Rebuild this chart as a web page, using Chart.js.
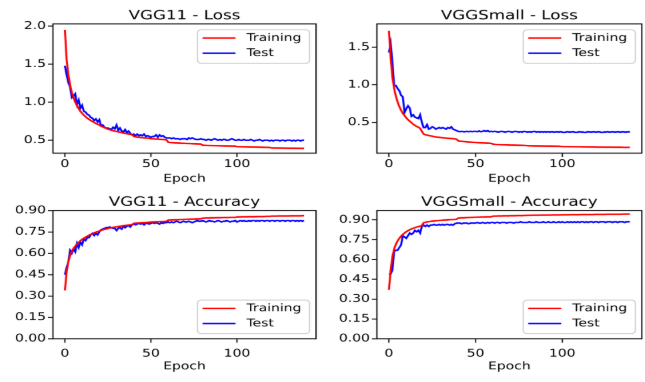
<!DOCTYPE html>
<html>
<head>
<meta charset="utf-8">
<script src="https://cdn.jsdelivr.net/npm/chart.js@4"></script>
<style>
  html, body { margin: 0; padding: 0; background: #fff; overflow: hidden; }
  #fig { position: absolute; left: 0; top: 0; }
  #work { position: absolute; left: -3000px; top: 0; }
</style>
</head>
<body>
<canvas id="fig" width="645" height="382"></canvas>
<div id="work">
  <canvas id="lossVgg11" width="322" height="245"></canvas>
  <canvas id="lossSmall" width="323" height="245"></canvas>
  <canvas id="accVgg11" width="322" height="245"></canvas>
  <canvas id="accSmall" width="323" height="245"></canvas>
</div>
<script>
const epochs = Array.from({ length: 140 }, (_, i) => i);
const xTicks = [0, 50, 100];
const lossTicks11 = [0.5, 1.0, 1.5, 2.0];
const lossTicksSmall = [0.5, 1.0, 1.5];
const accTicks = [0.0, 0.15, 0.30, 0.45, 0.60, 0.75, 0.90];

const trainLoss11 = [
  1.95, 1.56, 1.36, 1.23, 1.13, 1.06, 1.00, 0.955, 0.915, 0.88,
  0.855, 0.83, 0.81, 0.79, 0.775, 0.76, 0.745, 0.735, 0.72, 0.71,
  0.70, 0.685, 0.675, 0.665, 0.655, 0.645, 0.64, 0.63, 0.625, 0.62,
  0.615, 0.61, 0.605, 0.60, 0.595, 0.59, 0.585, 0.58, 0.578, 0.575,
  0.55, 0.545, 0.54, 0.54, 0.535, 0.535, 0.53, 0.53, 0.528, 0.525,
  0.52, 0.52, 0.518, 0.515, 0.515, 0.512, 0.51, 0.51, 0.508, 0.505,
  0.475, 0.47, 0.468, 0.467, 0.465, 0.465, 0.463, 0.462, 0.46, 0.46,
  0.458, 0.457, 0.456, 0.455, 0.454, 0.453, 0.452, 0.451, 0.45, 0.449,
  0.435, 0.433, 0.432, 0.431, 0.43, 0.43, 0.429, 0.428, 0.428, 0.427,
  0.426, 0.426, 0.425, 0.425, 0.424, 0.424, 0.423, 0.423, 0.422, 0.422,
  0.415, 0.414, 0.414, 0.413, 0.413, 0.412, 0.412, 0.411, 0.411, 0.41,
  0.41, 0.409, 0.409, 0.408, 0.408, 0.407, 0.407, 0.406, 0.406, 0.405,
  0.398, 0.398, 0.397, 0.397, 0.397, 0.396, 0.396, 0.396, 0.395, 0.395,
  0.395, 0.394, 0.394, 0.394, 0.394, 0.393, 0.393, 0.393, 0.393, 0.392
];
const testLoss11 = [
  1.48, 1.36, 1.26, 1.2, 1.06, 1.08, 1.11, 0.97, 1.03, 0.92,
  0.96, 0.88, 0.87, 0.84, 0.83, 0.8, 0.79, 0.76, 0.78, 0.74,
  0.77, 0.69, 0.7, 0.67, 0.66, 0.66, 0.65, 0.64, 0.67, 0.65,
  0.70, 0.63, 0.66, 0.62, 0.61, 0.64, 0.6, 0.62, 0.59, 0.57,
  0.58, 0.56, 0.58, 0.56, 0.57, 0.56, 0.58, 0.55, 0.56, 0.55,
  0.54, 0.55, 0.55, 0.57, 0.54, 0.57, 0.55, 0.56, 0.54, 0.53,
  0.53, 0.53, 0.52, 0.53, 0.52, 0.52, 0.52, 0.51, 0.52, 0.52,
  0.52, 0.51, 0.53, 0.52, 0.53, 0.52, 0.51, 0.51, 0.51, 0.52,
  0.51, 0.51, 0.5, 0.51, 0.51, 0.5, 0.51, 0.52, 0.51, 0.5,
  0.51, 0.5, 0.51, 0.51, 0.5, 0.5, 0.51, 0.52, 0.51, 0.5,
  0.5, 0.51, 0.5, 0.5, 0.51, 0.5, 0.5, 0.5, 0.51, 0.5,
  0.49, 0.5, 0.5, 0.51, 0.5, 0.49, 0.5, 0.5, 0.5, 0.49,
  0.5, 0.49, 0.5, 0.5, 0.5, 0.49, 0.5, 0.5, 0.49, 0.5,
  0.5, 0.5, 0.49, 0.5, 0.49, 0.5, 0.5, 0.49, 0.5, 0.5
];
const trainLossSmall = [
  1.72, 1.36, 1.1, 0.95, 0.85, 0.77, 0.71, 0.66, 0.62, 0.59,
  0.56, 0.535, 0.515, 0.495, 0.475, 0.46, 0.445, 0.435, 0.42, 0.38,
  0.345, 0.335, 0.33, 0.325, 0.32, 0.315, 0.31, 0.305, 0.303, 0.3,
  0.298, 0.295, 0.293, 0.29, 0.288, 0.286, 0.285, 0.283, 0.28, 0.275,
  0.255, 0.25, 0.248, 0.245, 0.243, 0.24, 0.238, 0.237, 0.235, 0.233,
  0.232, 0.23, 0.229, 0.228, 0.227, 0.226, 0.225, 0.224, 0.222, 0.22,
  0.21, 0.207, 0.205, 0.204, 0.203, 0.202, 0.201, 0.2, 0.2, 0.199,
  0.198, 0.197, 0.197, 0.196, 0.195, 0.195, 0.194, 0.194, 0.193, 0.192,
  0.188, 0.187, 0.187, 0.186, 0.186, 0.185, 0.185, 0.185, 0.184, 0.184,
  0.183, 0.183, 0.183, 0.182, 0.182, 0.182, 0.181, 0.181, 0.181, 0.18,
  0.177, 0.177, 0.176, 0.176, 0.176, 0.175, 0.175, 0.175, 0.175, 0.174,
  0.174, 0.174, 0.173, 0.173, 0.173, 0.173, 0.172, 0.172, 0.172, 0.172,
  0.17, 0.17, 0.17, 0.17, 0.169, 0.169, 0.169, 0.169, 0.169, 0.168,
  0.168, 0.168, 0.168, 0.168, 0.168, 0.167, 0.167, 0.167, 0.167, 0.167
];
const testLossSmall = [
  1.43, 1.55, 1.3, 0.99, 0.99, 0.95, 0.92, 0.86, 0.84, 0.63,
  0.68, 0.72, 0.69, 0.58, 0.6, 0.57, 0.56, 0.55, 0.6, 0.5,
  0.43, 0.43, 0.47, 0.41, 0.42, 0.44, 0.43, 0.41, 0.42, 0.43,
  0.42, 0.43, 0.42, 0.41, 0.43, 0.42, 0.44, 0.41, 0.4, 0.39,
  0.38, 0.375, 0.38, 0.375, 0.375, 0.38, 0.375, 0.38, 0.375, 0.38,
  0.38, 0.375, 0.385, 0.375, 0.38, 0.39, 0.38, 0.39, 0.375, 0.38,
  0.375, 0.38, 0.375, 0.37, 0.375, 0.38, 0.375, 0.37, 0.375, 0.38,
  0.375, 0.37, 0.375, 0.38, 0.375, 0.37, 0.375, 0.37, 0.38, 0.375,
  0.37, 0.375, 0.37, 0.375, 0.38, 0.37, 0.375, 0.37, 0.375, 0.37,
  0.375, 0.37, 0.375, 0.37, 0.375, 0.37, 0.37, 0.375, 0.37, 0.375,
  0.37, 0.365, 0.37, 0.375, 0.37, 0.37, 0.375, 0.37, 0.365, 0.37,
  0.375, 0.37, 0.37, 0.365, 0.37, 0.375, 0.37, 0.37, 0.375, 0.37,
  0.37, 0.375, 0.37, 0.365, 0.37, 0.37, 0.375, 0.37, 0.37, 0.375,
  0.37, 0.37, 0.375, 0.37, 0.37, 0.375, 0.37, 0.37, 0.375, 0.37
];
const trainAcc11 = [
  0.34, 0.47, 0.54, 0.585, 0.615, 0.635, 0.65, 0.665, 0.677, 0.688,
  0.698, 0.706, 0.713, 0.72, 0.727, 0.733, 0.738, 0.743, 0.748, 0.752,
  0.757, 0.761, 0.765, 0.768, 0.771, 0.774, 0.777, 0.78, 0.782, 0.784,
  0.786, 0.788, 0.79, 0.792, 0.794, 0.795, 0.797, 0.798, 0.8, 0.801,
  0.81, 0.811, 0.812, 0.813, 0.814, 0.815, 0.816, 0.816, 0.817, 0.818,
  0.819, 0.82, 0.82, 0.821, 0.822, 0.822, 0.823, 0.823, 0.824, 0.825,
  0.833, 0.834, 0.834, 0.835, 0.835, 0.836, 0.836, 0.837, 0.837, 0.838,
  0.838, 0.839, 0.839, 0.84, 0.84, 0.84, 0.841, 0.841, 0.842, 0.842,
  0.847, 0.847, 0.848, 0.848, 0.848, 0.849, 0.849, 0.849, 0.85, 0.85,
  0.85, 0.85, 0.851, 0.851, 0.851, 0.851, 0.852, 0.852, 0.852, 0.852,
  0.855, 0.855, 0.855, 0.856, 0.856, 0.856, 0.856, 0.857, 0.857, 0.857,
  0.857, 0.857, 0.858, 0.858, 0.858, 0.858, 0.858, 0.859, 0.859, 0.859,
  0.861, 0.861, 0.861, 0.861, 0.862, 0.862, 0.862, 0.862, 0.862, 0.862,
  0.862, 0.863, 0.863, 0.863, 0.863, 0.863, 0.863, 0.863, 0.864, 0.864
];
const testAcc11 = [
  0.45, 0.5, 0.54, 0.62, 0.6, 0.63, 0.61, 0.67, 0.64, 0.68,
  0.66, 0.7, 0.69, 0.71, 0.71, 0.73, 0.74, 0.725, 0.74, 0.73,
  0.75, 0.765, 0.77, 0.775, 0.78, 0.78, 0.785, 0.78, 0.775, 0.775,
  0.76, 0.775, 0.78, 0.77, 0.79, 0.78, 0.79, 0.795, 0.785, 0.8,
  0.805, 0.8, 0.805, 0.81, 0.805, 0.81, 0.8, 0.81, 0.81, 0.805,
  0.81, 0.815, 0.81, 0.815, 0.81, 0.805, 0.815, 0.81, 0.815, 0.815,
  0.82, 0.815, 0.82, 0.815, 0.82, 0.825, 0.82, 0.815, 0.82, 0.825,
  0.82, 0.82, 0.825, 0.82, 0.815, 0.82, 0.825, 0.83, 0.825, 0.825,
  0.83, 0.825, 0.82, 0.825, 0.83, 0.825, 0.825, 0.82, 0.825, 0.83,
  0.825, 0.82, 0.825, 0.825, 0.83, 0.825, 0.82, 0.825, 0.825, 0.83,
  0.82, 0.825, 0.83, 0.825, 0.83, 0.825, 0.825, 0.83, 0.825, 0.83,
  0.83, 0.825, 0.83, 0.825, 0.83, 0.83, 0.825, 0.83, 0.83, 0.825,
  0.83, 0.83, 0.825, 0.83, 0.83, 0.825, 0.83, 0.83, 0.825, 0.83,
  0.83, 0.825, 0.83, 0.83, 0.825, 0.83, 0.825, 0.83, 0.825, 0.83
];
const trainAccSmall = [
  0.37, 0.52, 0.62, 0.68, 0.715, 0.74, 0.76, 0.776, 0.789, 0.8,
  0.81, 0.818, 0.825, 0.831, 0.836, 0.841, 0.845, 0.849, 0.852, 0.856,
  0.878, 0.881, 0.884, 0.886, 0.888, 0.89, 0.891, 0.893, 0.894, 0.895,
  0.896, 0.897, 0.898, 0.899, 0.9, 0.901, 0.902, 0.902, 0.903, 0.904,
  0.913, 0.914, 0.915, 0.915, 0.916, 0.917, 0.917, 0.918, 0.918, 0.919,
  0.919, 0.92, 0.92, 0.921, 0.921, 0.921, 0.922, 0.922, 0.922, 0.923,
  0.927, 0.928, 0.928, 0.929, 0.929, 0.929, 0.93, 0.93, 0.93, 0.93,
  0.931, 0.931, 0.931, 0.931, 0.932, 0.932, 0.932, 0.932, 0.933, 0.933,
  0.934, 0.934, 0.934, 0.935, 0.935, 0.935, 0.935, 0.935, 0.936, 0.936,
  0.936, 0.936, 0.936, 0.936, 0.937, 0.937, 0.937, 0.937, 0.937, 0.937,
  0.938, 0.938, 0.938, 0.938, 0.938, 0.939, 0.939, 0.939, 0.939, 0.939,
  0.939, 0.94, 0.94, 0.94, 0.94, 0.94, 0.94, 0.94, 0.94, 0.941,
  0.941, 0.941, 0.941, 0.941, 0.941, 0.941, 0.942, 0.942, 0.942, 0.942,
  0.942, 0.942, 0.942, 0.942, 0.942, 0.943, 0.943, 0.943, 0.943, 0.943
];
const testAccSmall = [
  0.49, 0.49, 0.52, 0.66, 0.67, 0.67, 0.69, 0.71, 0.78, 0.77,
  0.76, 0.78, 0.8, 0.79, 0.8, 0.82, 0.81, 0.82, 0.8, 0.85,
  0.86, 0.85, 0.86, 0.85, 0.86, 0.86, 0.865, 0.86, 0.86, 0.865,
  0.86, 0.865, 0.86, 0.865, 0.865, 0.86, 0.865, 0.86, 0.87, 0.875,
  0.875, 0.875, 0.87, 0.875, 0.875, 0.875, 0.87, 0.875, 0.875, 0.875,
  0.875, 0.88, 0.875, 0.875, 0.88, 0.875, 0.875, 0.88, 0.875, 0.88,
  0.88, 0.875, 0.88, 0.88, 0.875, 0.88, 0.88, 0.88, 0.875, 0.88,
  0.88, 0.88, 0.875, 0.88, 0.88, 0.88, 0.885, 0.88, 0.88, 0.88,
  0.88, 0.885, 0.88, 0.88, 0.88, 0.885, 0.88, 0.88, 0.88, 0.885,
  0.88, 0.88, 0.885, 0.88, 0.88, 0.885, 0.88, 0.88, 0.885, 0.88,
  0.885, 0.88, 0.88, 0.885, 0.88, 0.885, 0.88, 0.885, 0.88, 0.885,
  0.88, 0.885, 0.885, 0.88, 0.885, 0.88, 0.885, 0.885, 0.88, 0.885,
  0.885, 0.88, 0.885, 0.885, 0.885, 0.88, 0.885, 0.885, 0.885, 0.88,
  0.885, 0.885, 0.88, 0.885, 0.885, 0.885, 0.88, 0.885, 0.885, 0.885
];

Chart.defaults.font.family = '"DejaVu Sans", sans-serif';
Chart.defaults.color = '#000';

// the source figure is squashed vertically: charts are drawn off screen, then copied in at this ratio
const SQUASH = 0.78;
const fig = document.getElementById('fig').getContext('2d');
fig.fillStyle = '#fff';
fig.fillRect(0, 0, 645, 382);

// axes frame + matplotlib style legend box inside the plot
const frameAndLegend = {
  id: 'frameAndLegend',
  afterDraw(chart, args, opts) {
    const ctx = chart.ctx;
    const a = chart.chartArea;
    ctx.save();
    ctx.strokeStyle = '#000';
    ctx.lineWidth = 1.2;
    ctx.strokeRect(a.left, a.top, a.right - a.left, a.bottom - a.top);

    const w = 112, h = 43, r = 4;
    const bx = a.right - 6.5 - w;
    const by = opts.corner === 'lower' ? a.bottom - 6.5 - h : a.top + 7.5;
    ctx.beginPath();
    ctx.moveTo(bx + r, by);
    ctx.arcTo(bx + w, by, bx + w, by + h, r);
    ctx.arcTo(bx + w, by + h, bx, by + h, r);
    ctx.arcTo(bx, by + h, bx, by, r);
    ctx.arcTo(bx, by, bx + w, by, r);
    ctx.closePath();
    ctx.fillStyle = 'rgba(255,255,255,0.8)';
    ctx.fill();
    ctx.strokeStyle = '#cccccc';
    ctx.lineWidth = 1.2;
    ctx.stroke();

    ctx.font = '13.9px "DejaVu Sans"';
    ctx.textBaseline = 'middle';
    ctx.fillStyle = '#000';
    const rows = [10.6, 30];
    chart.data.datasets.forEach((ds, i) => {
      const y = by + rows[i];
      ctx.beginPath();
      ctx.moveTo(bx + 5, y);
      ctx.lineTo(bx + 38, y);
      ctx.strokeStyle = ds.borderColor;
      ctx.lineWidth = 2;
      ctx.stroke();
      ctx.fillText(ds.label, bx + 49, y);
    });
    ctx.restore();
  },
  afterRender(chart, args, opts) {
    fig.save();
    fig.fillStyle = '#fff';
    fig.fillRect(opts.dx, opts.dy, chart.width, chart.height * SQUASH);
    fig.imageSmoothingEnabled = true;
    fig.imageSmoothingQuality = 'high';
    fig.drawImage(chart.canvas, 0, 0, chart.canvas.width, chart.canvas.height,
      opts.dx, opts.dy, chart.width, chart.height * SQUASH);
    fig.restore();
  }
};

const charts = [];

function drawPanel(id, p) {
  charts.push(new Chart(document.getElementById(id), {
    type: 'line',
    data: {
      labels: epochs,
      datasets: [
        { label: 'Training', data: p.train, borderColor: '#ff0000', borderWidth: 2, pointRadius: 0, tension: 0, fill: false },
        { label: 'Test', data: p.test, borderColor: '#0000ff', borderWidth: 2, pointRadius: 0, tension: 0, fill: false }
      ]
    },
    options: {
      responsive: false,
      animation: false,
      devicePixelRatio: 3,
      events: [],
      layout: { padding: { left: 0, top: 0, bottom: 0, right: p.right } },
      plugins: {
        legend: { display: false },
        tooltip: { enabled: false },
        title: {
          display: true, text: p.title, fullSize: false, color: '#000',
          font: { size: 16.7, weight: 'normal', lineHeight: 1.2 },
          padding: { top: p.titleTop, bottom: p.titleBottom }
        },
        frameAndLegend: { corner: p.corner, dx: p.dx, dy: p.dy }
      },
      scales: {
        x: {
          type: 'linear', min: -6.95, max: 145.95,
          afterBuildTicks: s => { s.ticks = xTicks.map(v => ({ value: v })); },
          afterFit: s => { s.height = p.xHeight; },
          grid: { drawOnChartArea: false, drawTicks: true, tickLength: 5, color: '#000', lineWidth: 1.2 },
          border: { display: false },
          ticks: { font: { size: 13.9 }, padding: p.xPad, maxRotation: 0, color: '#000' },
          title: { display: true, text: 'Epoch', font: { size: 13.9 }, padding: { top: 0, bottom: p.epochPad }, color: '#000' }
        },
        y: {
          min: p.yMin, max: p.yMax,
          afterBuildTicks: s => { s.ticks = p.yTicks.map(v => ({ value: v })); },
          afterFit: s => { s.width = p.left; },
          grid: { drawOnChartArea: false, drawTicks: true, tickLength: 5, color: '#000', lineWidth: 1.2 },
          border: { display: false },
          ticks: { font: { size: 13.9 }, padding: 2, color: '#000', callback: v => v.toFixed(p.decimals) }
        }
      }
    },
    plugins: [frameAndLegend]
  }));
}

drawPanel('lossVgg11', {
  title: 'VGG11 - Loss', train: trainLoss11, test: testLoss11,
  yMin: 0.33, yMax: 2.03, yTicks: lossTicks11, decimals: 1, corner: 'upper',
  dx: 0, dy: 0,
  left: 53, right: 6, titleTop: 10.5, titleBottom: 0.3, xHeight: 48.8, xPad: 1, epochPad: 7.5
});
drawPanel('lossSmall', {
  title: 'VGGSmall - Loss', train: trainLossSmall, test: testLossSmall,
  yMin: 0.09, yMax: 1.81, yTicks: lossTicksSmall, decimals: 1, corner: 'upper',
  dx: 322, dy: 0,
  left: 55, right: 3.3, titleTop: 10.5, titleBottom: 0.3, xHeight: 48.8, xPad: 1, epochPad: 7.5
});
drawPanel('accVgg11', {
  title: 'VGG11 - Accuracy', train: trainAcc11, test: testAcc11,
  yMin: 0, yMax: 0.9, yTicks: accTicks, decimals: 2, corner: 'lower',
  dx: 0, dy: 245 * SQUASH,
  left: 53, right: 6, titleTop: 4.5, titleBottom: 0.6, xHeight: 55.8, xPad: 5.8, epochPad: 12
});
drawPanel('accSmall', {
  title: 'VGGSmall - Accuracy', train: trainAccSmall, test: testAccSmall,
  yMin: 0, yMax: 0.97, yTicks: accTicks, decimals: 2, corner: 'lower',
  dx: 322, dy: 245 * SQUASH,
  left: 55, right: 3.3, titleTop: 4.5, titleBottom: 0.6, xHeight: 55.8, xPad: 5.8, epochPad: 12
});
</script>
</body>
</html>
